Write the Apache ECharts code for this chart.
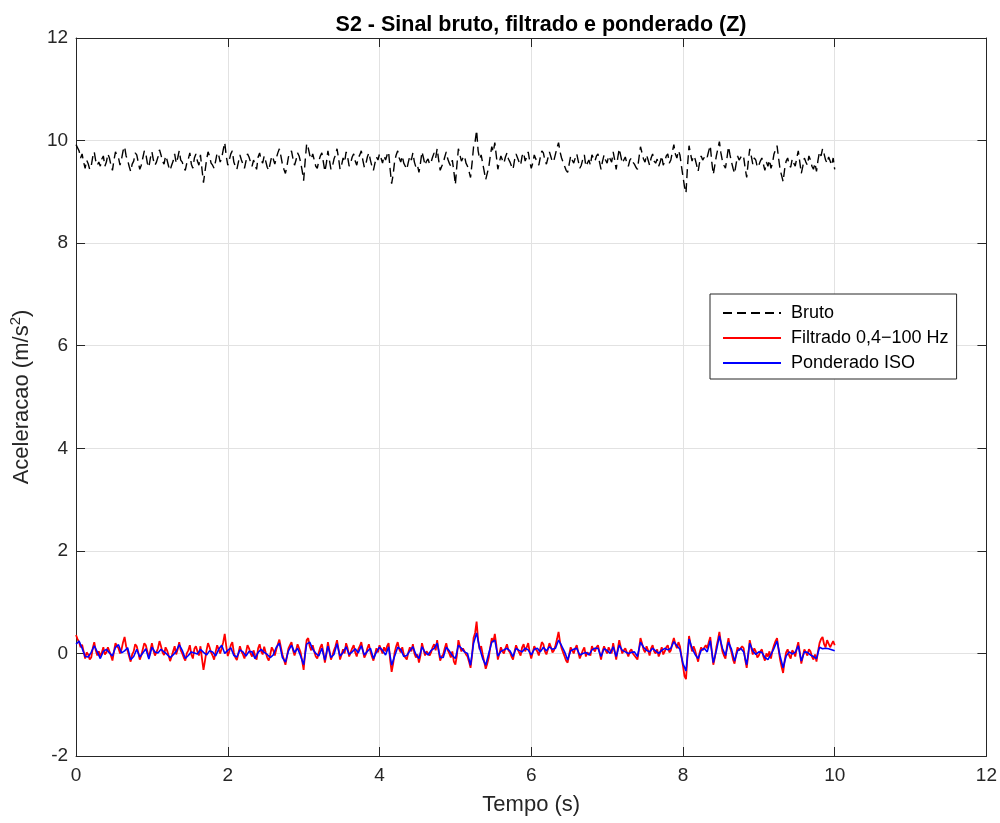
<!DOCTYPE html>
<html>
<head>
<meta charset="utf-8">
<script src="https://cdn.jsdelivr.net/npm/echarts@6/dist/echarts.min.js"></script>
<style>html,body{margin:0;padding:0;background:#fff}#c{width:1000px;height:823px}</style>
</head>
<body>
<div id="c"></div>
<script>
// sampling steps (s) of the digitised signals, all starting at t = 0
const dtRaw = 0.02;   // bruto and filtrado
const dtIso = 0.04;   // ponderado

const xTicks = [0, 2, 4, 6, 8, 10, 12];
const yTicks = [-2, 0, 2, 4, 6, 8, 10, 12];

const bruto = [
9.92,9.86,9.80,9.66,9.74,9.58,9.46,9.62,9.55,9.44,9.50,9.68,9.78,9.60,9.52,9.58,9.50,9.64,9.70,9.50,9.58,9.74,9.66,9.52,9.42,9.62,9.78,9.70,9.66,9.52,9.64,9.80,9.88,9.70,9.62,9.50,9.40,9.54,9.60,9.76,9.72,9.58,9.44,9.52,9.66,9.80,9.74,9.56,9.48,9.66,
9.78,9.62,9.52,9.58,9.68,9.82,9.72,9.60,9.54,9.70,9.62,9.50,9.42,9.52,9.60,9.74,9.56,9.66,9.80,9.62,9.58,9.48,9.42,9.56,9.64,9.76,9.54,9.46,9.66,9.74,9.60,9.52,9.72,9.44,9.18,9.40,9.62,9.78,9.70,9.56,9.52,9.46,9.60,9.76,9.72,9.58,9.66,9.82,9.96,9.70,
9.52,9.62,9.74,9.80,9.58,9.50,9.44,9.58,9.72,9.62,9.54,9.46,9.60,9.74,9.68,9.58,9.50,9.62,9.52,9.44,9.68,9.76,9.62,9.56,9.70,9.60,9.48,9.42,9.56,9.70,9.64,9.54,9.66,9.76,9.84,9.70,9.54,9.44,9.36,9.50,9.68,9.76,9.80,9.64,9.52,9.62,9.76,9.70,9.58,9.42,
9.22,9.60,9.94,9.86,9.72,9.64,9.74,9.62,9.50,9.46,9.60,9.70,9.76,9.58,9.40,9.56,9.80,9.62,9.44,9.50,9.64,9.72,9.84,9.66,9.44,9.52,9.66,9.58,9.78,9.68,9.50,9.56,9.68,9.74,9.60,9.52,9.66,9.72,9.80,9.62,9.48,9.54,9.68,9.76,9.62,9.50,9.42,9.56,9.68,9.62,
9.74,9.66,9.56,9.70,9.62,9.72,9.78,9.44,9.16,9.34,9.60,9.72,9.80,9.66,9.58,9.70,9.56,9.50,9.44,9.58,9.70,9.62,9.76,9.58,9.48,9.52,9.38,9.56,9.78,9.66,9.52,9.60,9.64,9.54,9.58,9.68,9.76,9.66,9.84,9.62,9.42,9.50,9.56,9.68,9.78,9.64,9.56,9.50,9.62,9.40,
9.14,9.52,9.84,9.72,9.60,9.66,9.70,9.56,9.50,9.40,9.28,9.56,9.88,9.98,10.20,9.80,9.64,9.72,9.56,9.40,9.24,9.36,9.48,9.70,9.88,9.78,9.96,9.70,9.44,9.58,9.70,9.62,9.56,9.68,9.76,9.64,9.58,9.50,9.44,9.62,9.74,9.66,9.58,9.52,9.70,9.76,9.60,9.68,9.78,9.60,
9.46,9.56,9.72,9.64,9.60,9.52,9.68,9.80,9.76,9.62,9.54,9.66,9.78,9.68,9.58,9.62,9.74,9.86,9.96,9.78,9.66,9.58,9.50,9.42,9.38,9.54,9.70,9.62,9.56,9.66,9.74,9.60,9.46,9.52,9.64,9.72,9.50,9.56,9.62,9.52,9.72,9.66,9.60,9.70,9.74,9.58,9.44,9.60,9.72,9.62,
9.56,9.70,9.64,9.58,9.78,9.62,9.44,9.66,9.84,9.70,9.56,9.62,9.68,9.56,9.50,9.62,9.66,9.58,9.54,9.48,9.44,9.66,9.88,9.76,9.64,9.58,9.72,9.62,9.52,9.66,9.74,9.60,9.56,9.64,9.50,9.58,9.70,9.52,9.60,9.70,9.74,9.56,9.62,9.78,9.92,9.74,9.66,9.80,9.72,9.50,
9.30,9.10,8.98,9.50,9.90,9.74,9.60,9.70,9.64,9.52,9.40,9.58,9.70,9.62,9.60,9.72,9.68,9.80,9.90,9.58,9.34,9.52,9.70,9.84,9.98,9.76,9.60,9.52,9.46,9.66,9.88,9.72,9.58,9.46,9.36,9.54,9.70,9.62,9.60,9.72,9.68,9.46,9.28,9.58,9.84,9.70,9.54,9.66,9.62,9.48,
9.52,9.60,9.66,9.54,9.42,9.58,9.50,9.62,9.46,9.56,9.74,9.82,9.90,9.66,9.44,9.32,9.20,9.44,9.60,9.66,9.52,9.48,9.64,9.56,9.50,9.66,9.80,9.58,9.36,9.50,9.66,9.58,9.52,9.70,9.62,9.50,9.44,9.56,9.40,9.62,9.78,9.70,9.84,9.74,9.62,9.56,9.68,9.60,9.52,9.66,
9.44
];

const filtrado = [
0.36,0.28,0.22,0.12,0.17,0.04,-0.10,0.02,-0.02,-0.12,-0.08,0.10,0.22,0.06,-0.04,0.04,-0.06,0.02,0.12,-0.02,0.02,0.12,0.09,-0.04,-0.14,0.04,0.20,0.14,0.10,0.00,0.08,0.22,0.32,0.14,0.05,-0.06,-0.16,-0.02,0.04,0.18,0.14,0.02,-0.12,-0.04,0.08,0.20,0.16,0.04,-0.08,0.06,
0.20,0.06,-0.04,0.02,0.10,0.24,0.14,0.02,-0.03,0.12,0.06,-0.04,-0.15,-0.06,0.04,0.14,-0.02,0.08,0.22,0.06,0.00,-0.08,-0.14,0.00,0.06,0.16,-0.02,-0.10,0.09,0.14,0.04,-0.04,0.14,-0.10,-0.32,-0.14,0.06,0.20,0.12,0.02,-0.04,-0.12,0.03,0.16,0.14,0.00,0.10,0.22,0.38,0.14,
-0.05,0.04,0.16,0.22,0.02,-0.08,-0.13,0.00,0.14,0.04,-0.02,-0.10,0.02,0.16,0.10,0.00,-0.06,0.06,-0.04,-0.12,0.10,0.18,0.04,-0.02,0.13,0.02,-0.08,-0.14,-0.02,0.12,0.06,-0.04,0.08,0.18,0.27,0.12,-0.02,-0.12,-0.22,-0.06,0.10,0.16,0.22,0.06,-0.04,0.06,0.18,0.10,0.02,-0.14,
-0.32,0.02,0.26,0.30,0.14,0.06,0.16,0.04,-0.06,-0.10,0.02,0.12,0.18,0.02,-0.18,-0.02,0.22,0.06,-0.12,-0.04,0.06,0.14,0.26,0.08,-0.12,-0.02,0.08,0.00,0.20,0.10,-0.06,0.02,0.10,0.16,0.02,-0.06,0.08,0.14,0.22,0.06,-0.08,-0.02,0.10,0.18,0.04,-0.06,-0.14,-0.02,0.10,0.02,
0.16,0.08,0.00,0.12,0.04,0.14,0.20,-0.12,-0.36,-0.20,0.02,0.14,0.22,0.08,0.02,0.12,-0.02,-0.08,-0.12,0.02,0.12,0.04,0.18,0.00,-0.08,-0.02,-0.18,-0.04,0.20,0.08,-0.04,0.04,0.06,-0.04,0.02,0.12,0.18,0.06,0.26,0.04,-0.14,-0.06,-0.02,0.10,0.20,0.06,0.00,-0.08,0.04,-0.16,
-0.22,-0.04,0.26,0.14,0.04,0.10,0.12,-0.02,-0.06,-0.16,-0.28,-0.04,0.30,0.40,0.62,0.26,0.08,0.14,-0.02,-0.16,-0.30,-0.20,-0.08,0.12,0.30,0.22,0.38,0.16,-0.12,0.00,0.12,0.04,0.00,0.10,0.18,0.06,0.02,-0.06,-0.12,0.04,0.16,0.08,0.02,-0.04,0.12,0.18,0.04,0.12,0.20,0.02,
-0.10,0.02,0.14,0.08,0.04,-0.04,0.10,0.22,0.18,0.04,-0.02,0.08,0.20,0.12,0.02,0.06,0.16,0.28,0.42,0.22,0.10,0.02,-0.06,-0.14,-0.18,-0.02,0.12,0.06,0.00,0.10,0.16,0.02,-0.10,-0.02,0.06,0.12,-0.06,0.02,0.04,-0.04,0.14,0.08,0.04,0.12,0.16,0.02,-0.12,0.04,0.14,0.06,
0.00,0.12,0.06,0.00,0.20,0.04,-0.12,0.08,0.26,0.12,0.00,0.06,0.10,0.02,-0.06,0.04,0.08,0.00,-0.02,-0.08,-0.12,0.08,0.30,0.20,0.08,0.02,0.14,0.06,-0.04,0.10,0.16,0.04,0.00,0.08,-0.06,0.02,0.12,-0.02,0.04,0.12,0.16,0.02,0.06,0.20,0.30,0.18,0.10,0.22,0.14,-0.06,
-0.24,-0.44,-0.50,-0.04,0.34,0.18,0.04,0.14,0.06,-0.06,-0.16,0.02,0.12,0.06,0.04,0.16,0.10,0.22,0.32,0.04,-0.22,-0.08,0.12,0.26,0.42,0.20,0.04,-0.04,-0.10,0.14,0.30,0.12,0.02,-0.12,-0.20,-0.02,0.12,0.06,0.04,0.14,0.10,-0.12,-0.28,-0.04,0.26,0.12,-0.02,0.10,0.04,-0.08,
-0.04,0.04,0.08,-0.06,-0.14,0.00,-0.06,0.04,-0.10,0.06,0.16,0.24,0.30,0.08,-0.12,-0.26,-0.38,-0.14,0.02,0.08,-0.04,-0.10,0.06,0.02,-0.06,0.10,0.22,0.02,-0.20,-0.06,0.08,0.02,-0.04,0.08,0.04,-0.06,-0.12,-0.02,-0.16,0.04,0.20,0.28,0.32,0.18,0.12,0.26,0.24,0.12,0.18,0.24,
0.16
];

const ponderado = [
0.18,0.24,0.10,-0.06,-0.07,0.02,0.15,0.03,-0.10,0.04,0.08,0.01,-0.05,0.12,0.17,0.01,0.05,0.11,-0.12,-0.06,0.08,-0.07,0.01,0.09,-0.11,
0.12,0.03,0.01,0.08,0.03,-0.02,-0.08,-0.03,0.04,0.17,0.06,-0.10,-0.04,0.03,0.01,-0.01,0.08,0.02,-0.03,0.05,0.03,-0.05,0.08,0.16,0.00,
0.06,0.11,-0.04,-0.07,0.07,0.03,-0.05,0.04,0.03,-0.10,0.02,0.08,0.02,-0.02,-0.08,-0.03,0.12,0.20,-0.08,-0.17,0.05,0.16,0.02,0.10,-0.05,
-0.22,0.18,0.22,0.08,0.00,-0.05,0.10,-0.13,0.14,-0.08,-0.02,0.19,-0.05,0.02,0.13,-0.02,0.03,0.09,0.01,0.15,-0.03,0.04,0.10,-0.10,0.03,
0.12,0.06,-0.03,0.13,-0.23,-0.05,0.12,0.08,-0.06,-0.04,0.05,0.13,-0.02,-0.10,0.13,0.02,-0.03,0.06,0.10,0.20,-0.08,-0.08,0.12,0.05,-0.04,
-0.10,0.16,0.10,0.03,0.00,-0.23,0.20,0.40,0.10,-0.10,-0.23,0.00,0.22,0.26,-0.05,0.04,0.07,0.10,0.05,-0.06,0.10,0.06,0.03,0.10,0.07,
-0.03,0.08,0.10,0.03,0.12,0.05,0.13,0.08,0.10,0.26,0.15,0.03,-0.13,0.05,0.08,0.10,-0.03,0.00,0.02,-0.03,0.07,0.10,0.10,-0.06,0.09,
0.06,0.00,0.13,-0.06,0.16,0.06,0.03,0.00,0.02,0.03,-0.06,0.22,0.12,0.06,0.03,0.10,0.05,0.00,0.06,0.10,0.07,0.10,0.23,0.15,0.08,
-0.20,-0.34,0.28,0.10,-0.02,-0.10,0.06,0.10,0.03,0.25,-0.18,0.05,0.34,0.10,-0.04,0.22,0.08,-0.15,0.05,0.10,0.03,-0.22,0.20,0.05,-0.02,
0.03,0.02,-0.08,-0.12,-0.02,0.10,0.24,-0.05,-0.28,-0.05,0.03,-0.01,0.02,0.15,-0.15,0.03,0.02,-0.03,-0.06,-0.10,0.12,0.09,0.10,0.09,0.07,0.05
];

const toPairs = (arr, step) => arr.map((v, i) => [+(i * step).toFixed(3), v]);

const FONT = 'Liberation Sans, Arial, Helvetica, sans-serif';
const AX = '#262626';
const GRID = '#e2e2e2';

const boxAxis = {
  axisLine: {show: true, onZero: false, lineStyle: {color: AX, width: 1}},
  axisTick: {show: true, inside: true, length: 9, lineStyle: {color: AX}},
  axisLabel: {show: false}, splitLine: {show: false}
};

const chart = echarts.init(document.getElementById('c'), null, {renderer: 'canvas'});
chart.setOption({
  animation: false,
  backgroundColor: '#ffffff',
  title: {
    text: 'S2 - Sinal bruto, filtrado e ponderado (Z)',
    left: 536, top: 9, textAlign: 'center',
    textStyle: {fontFamily: FONT, fontSize: 21.5, fontWeight: 'bold', color: '#000'}
  },
  grid: {left: 76, right: 13, top: 38, bottom: 67, containLabel: false},
  legend: {
    orient: 'vertical', left: 710, top: 294,
    backgroundColor: '#fff', borderColor: '#262626', borderWidth: 1, borderRadius: 0,
    padding: [10, 8, 7, 12], itemWidth: 58, itemHeight: 18, itemGap: 7,
    itemStyle: {opacity: 0},
    textStyle: {fontFamily: FONT, fontSize: 18, color: '#000', padding: [0, 0, 0, 5]},
    data: ['Bruto', 'Filtrado 0,4\u2212100 Hz', 'Ponderado ISO']
  },
  xAxis: [{
    type: 'value', min: xTicks[0], max: xTicks[xTicks.length - 1], interval: 2,
    name: 'Tempo (s)', nameLocation: 'middle', nameGap: 38,
    nameTextStyle: {fontFamily: FONT, fontSize: 22, color: AX},
    axisLine: {show: true, onZero: false, lineStyle: {color: AX, width: 1}},
    axisTick: {show: true, inside: true, length: 9, lineStyle: {color: AX}},
    axisLabel: {fontFamily: FONT, fontSize: 19, color: AX, margin: 10},
    splitLine: {show: true, lineStyle: {color: GRID, width: 1}}
  }, Object.assign({
    type: 'value', position: 'top', min: xTicks[0], max: xTicks[xTicks.length - 1], interval: 2
  }, boxAxis)],
  yAxis: [{
    type: 'value', min: yTicks[0], max: yTicks[yTicks.length - 1], interval: 2,
    name: 'Aceleracao (m/s{sup|2})', nameLocation: 'middle', nameGap: 33, nameRotate: 90,
    nameTextStyle: {
      fontFamily: FONT, fontSize: 22, color: AX, lineHeight: 28,
      rich: {sup: {fontFamily: FONT, fontSize: 15, color: AX, verticalAlign: 'top', lineHeight: 28, padding: [0, 0, 12, 0]}}
    },
    axisLine: {show: true, onZero: false, lineStyle: {color: AX, width: 1}},
    axisTick: {show: true, inside: true, length: 9, lineStyle: {color: AX}},
    axisLabel: {fontFamily: FONT, fontSize: 19, color: AX, margin: 8},
    splitLine: {show: true, lineStyle: {color: GRID, width: 1}}
  }, Object.assign({
    type: 'value', position: 'right', min: yTicks[0], max: yTicks[yTicks.length - 1], interval: 2
  }, boxAxis)],
  series: [{
    name: 'Bruto', type: 'line', xAxisIndex: 0, yAxisIndex: 0,
    showSymbol: false, symbol: 'none',
    lineStyle: {color: '#000', width: 1.4, type: [9, 5]}, itemStyle: {color: '#000'},
    data: toPairs(bruto, dtRaw)
  }, {
    name: 'Filtrado 0,4\u2212100 Hz', type: 'line', xAxisIndex: 0, yAxisIndex: 0,
    showSymbol: false, symbol: 'none',
    lineStyle: {color: '#ff0000', width: 1.8}, itemStyle: {color: '#ff0000'},
    data: toPairs(filtrado, dtRaw)
  }, {
    name: 'Ponderado ISO', type: 'line', xAxisIndex: 0, yAxisIndex: 0,
    showSymbol: false, symbol: 'none',
    lineStyle: {color: '#0000ff', width: 1.6}, itemStyle: {color: '#0000ff'},
    data: toPairs(ponderado, dtIso)
  }]
});
</script>
</body>
</html>
